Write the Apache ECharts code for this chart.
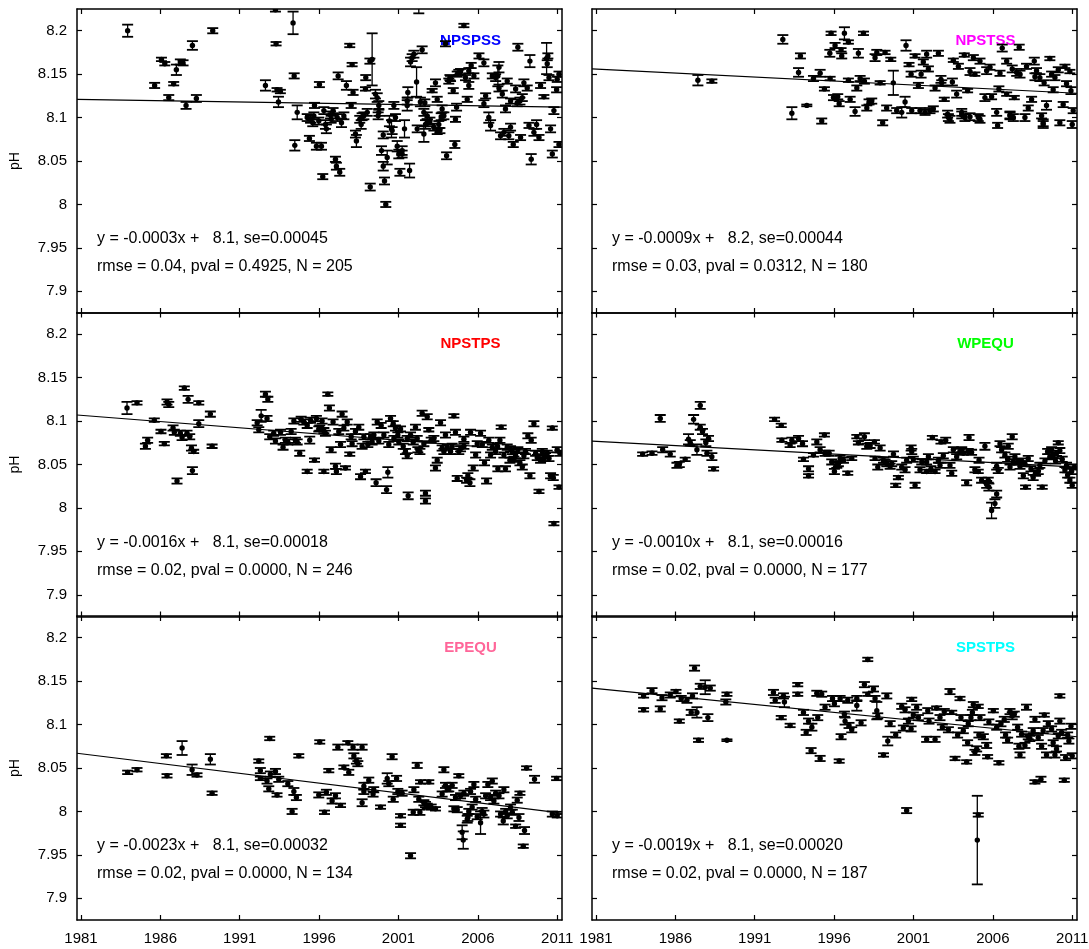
<!DOCTYPE html>
<html><head><meta charset="utf-8">
<script src="https://cdn.jsdelivr.net/npm/echarts@6/dist/echarts.min.js"></script>
<style>html,body{margin:0;padding:0;background:#fff}#c{width:1089px;height:949px}</style>
</head><body><div id="c"></div>
<script>
// ---------- data ----------
const panelNames = ['NPSPSS','NPSTSS','NPSTPS','WPEQU','EPEQU','SPSTPS'];
const titleColors = ['#0000ff','#ff00ff','#ff0000','#00ff00','#ff6699','#00ffff'];
const eqText = [
  'y = -0.0003x +   8.1, se=0.00045',
  'y = -0.0009x +   8.2, se=0.00044',
  'y = -0.0016x +   8.1, se=0.00018',
  'y = -0.0010x +   8.1, se=0.00016',
  'y = -0.0023x +   8.1, se=0.00032',
  'y = -0.0019x +   8.1, se=0.00020'
];
const statText = [
  'rmse = 0.04, pval = 0.4925, N = 205',
  'rmse = 0.03, pval = 0.0312, N = 180',
  'rmse = 0.02, pval = 0.0000, N = 246',
  'rmse = 0.02, pval = 0.0000, N = 177',
  'rmse = 0.02, pval = 0.0000, N = 134',
  'rmse = 0.02, pval = 0.0000, N = 187'
];
const trendX = [1980.75, 2011.3];
const trendStart = [8.121, 8.156, 8.107, 8.077, 8.067, 8.142];
const trendEnd   = [8.112, 8.128, 8.063, 8.047, 7.998, 8.086];
const xTicks = [1981, 1986, 1991, 1996, 2001, 2006, 2011];
const yTicks = [7.9, 7.95, 8, 8.05, 8.1, 8.15, 8.2];

// [year, pH, error]
const dNPSPSS = [
[1983.94,8.200,0.007],[1985.64,8.137,0.003],[1986.07,8.167,0.002],[1986.28,8.162,0.002],[1986.53,8.123,0.003],[1986.84,8.139,0.002],[1987.01,8.155,0.006],[1987.26,8.164,0.003],[1987.43,8.163,0.003],[1987.62,8.114,0.004],[1988.02,8.183,0.005],[1988.27,8.122,0.004],[1989.30,8.200,0.003],
[1992.62,8.137,0.006],[1993.29,8.185,0.002],[1993.25,8.224,0.002],[1993.35,8.132,0.002],[1993.56,8.130,0.002],[1993.44,8.118,0.006],[1994.36,8.209,0.013],[1994.43,8.148,0.003],[1994.47,8.068,0.006],[1994.62,8.106,0.008],
[1995.25,8.100,0.004],[1995.46,8.098,0.004],[1995.67,8.102,0.004],[1995.39,8.076,0.003],[1995.71,8.114,0.003],[1995.83,8.067,0.004],[1996.15,8.067,0.004],[1996.02,8.138,0.003],[1996.23,8.032,0.003],[1996.40,8.092,0.005],[1996.46,8.087,0.005],[1996.30,8.108,0.004],[1996.72,8.103,0.004],[1996.88,8.108,0.003],
[1997.03,8.052,0.003],[1997.09,8.044,0.004],[1997.30,8.037,0.004],[1997.20,8.148,0.004],[1997.41,8.094,0.005],[1997.56,8.102,0.004],[1997.72,8.137,0.005],[1997.93,8.183,0.002],[1998.08,8.161,0.002],[1998.14,8.129,0.003],[1998.02,8.114,0.003],[1998.29,8.081,0.004],[1998.35,8.073,0.007],[1998.56,8.098,0.004],[1998.65,8.092,0.005],[1998.82,8.102,0.004],[1998.94,8.146,0.003],[1998.92,8.133,0.002],
[1999.20,8.165,0.003],[1999.34,8.167,0.030],[1999.22,8.020,0.004],[1999.55,8.127,0.005],[1999.66,8.123,0.005],[1999.76,8.114,0.005],[1999.72,8.102,0.004],[1999.93,8.062,0.005],[2000.04,8.044,0.005],[2000.12,8.027,0.004],[2000.20,8.000,0.003],[2000.04,8.080,0.004],[2000.29,8.054,0.008],[2000.43,8.096,0.006],[2000.56,8.087,0.010],[2000.71,8.114,0.004],[2000.81,8.100,0.004],[2000.92,8.067,0.006],
[2001.02,8.058,0.005],[2001.09,8.037,0.004],[2001.23,8.062,0.005],[2001.38,8.087,0.010],[2001.55,8.114,0.006],[2001.59,8.129,0.006],[2001.70,8.039,0.008],[2001.76,8.164,0.005],[2001.86,8.169,0.004],[2001.97,8.173,0.004],[2002.14,8.141,0.017],[2002.28,8.240,0.020],[2002.38,8.118,0.005],[2002.49,8.178,0.004],[2002.60,8.106,0.004],[2002.70,8.092,0.005],[2002.60,8.081,0.009],[2002.81,8.102,0.004],[2002.98,8.096,0.004],
[2003.12,8.131,0.002],[2003.33,8.140,0.004],[2003.44,8.121,0.003],[2003.61,8.085,0.003],[2003.75,8.110,0.004],[2003.86,8.102,0.004],[2003.96,8.185,0.003],[2004.03,8.056,0.004],[2004.24,8.146,0.003],[2004.45,8.131,0.003],[2004.55,8.069,0.004],[2004.59,8.098,0.003],[2004.66,8.112,0.004],[2004.70,8.150,0.003],[2004.91,8.153,0.003],
[2005.12,8.206,0.002],[2005.22,8.146,0.003],[2005.43,8.154,0.003],[2005.43,8.137,0.004],[2005.58,8.160,0.003],[2005.75,8.148,0.003],[2006.07,8.171,0.003],[2006.38,8.163,0.004],[2006.38,8.116,0.004],[2006.49,8.125,0.003],[2006.69,8.100,0.006],[2006.80,8.091,0.006],[2006.91,8.148,0.003],
[2007.12,8.146,0.004],[2007.26,8.148,0.012],[2007.33,8.158,0.006],[2007.33,8.134,0.004],[2007.54,8.127,0.004],[2007.43,8.079,0.004],[2007.64,8.083,0.004],[2007.74,8.110,0.004],[2007.85,8.142,0.003],[2007.95,8.079,0.004],[2008.06,8.089,0.004],[2008.23,8.069,0.003],[2008.38,8.133,0.004],[2008.52,8.181,0.004],[2008.65,8.119,0.004],[2008.80,8.123,0.004],[2008.90,8.140,0.004],
[2009.11,8.134,0.003],[2009.28,8.165,0.007],[2009.36,8.052,0.006],[2009.22,8.091,0.003],[2009.53,8.083,0.004],[2009.70,8.092,0.005],[2009.85,8.077,0.003],[2009.95,8.137,0.003],[2010.16,8.124,0.002],[2010.33,8.168,0.018],[2010.37,8.162,0.004],[2010.48,8.146,0.003],[2010.58,8.087,0.004],[2010.69,8.058,0.004],[2010.79,8.108,0.004],[2010.96,8.132,0.003],[2011.00,8.144,0.003],[2011.11,8.150,0.003],[2011.11,8.069,0.003],
[1995.60,8.094,0.004],[1996.76,8.098,0.004],[1999.03,8.106,0.004],[1998.71,8.101,0.004],[2003.23,8.089,0.004],[2003.44,8.084,0.003],[2002.18,8.087,0.004],[2002.66,8.117,0.004],[2003.69,8.101,0.004],[2004.17,8.142,0.003],[2004.28,8.145,0.003],[2004.80,8.152,0.003],[2005.33,8.121,0.003],[2008.69,8.077,0.003],[2008.06,8.119,0.003],[2008.48,8.117,0.004],[2010.41,8.171,0.003],[2001.55,8.119,0.004],[1999.76,8.106,0.004],[2000.60,8.085,0.004],[2001.23,8.058,0.004],[2002.81,8.094,0.004],[2003.54,8.092,0.004],[1995.98,8.096,0.004],[1997.14,8.100,0.004]
];
const dNPSTSS = [
[1987.42,8.143,0.006],[1988.30,8.142,0.002],[1992.77,8.190,0.005],[1993.34,8.105,0.007],[1993.76,8.152,0.005],[1993.88,8.171,0.003],[1994.28,8.114,0.001],[1994.70,8.145,0.003],[1995.12,8.151,0.004],[1995.22,8.096,0.003],[1995.39,8.133,0.002],[1995.75,8.145,0.002],[1995.73,8.174,0.004],[1995.81,8.197,0.002],[1995.96,8.123,0.003],
[1996.06,8.183,0.003],[1996.23,8.124,0.003],[1996.32,8.116,0.003],[1996.44,8.178,0.002],[1996.48,8.171,0.003],[1996.65,8.197,0.007],[1996.90,8.187,0.002],[1996.90,8.143,0.002],[1997.01,8.121,0.003],[1997.32,8.107,0.005],[1997.43,8.134,0.003],[1997.53,8.174,0.005],[1997.64,8.145,0.003],[1997.85,8.197,0.002],[1997.91,8.142,0.003],
[1998.06,8.111,0.003],[1998.20,8.118,0.003],[1998.37,8.119,0.003],[1998.58,8.169,0.004],[1998.69,8.175,0.003],[1998.90,8.140,0.002],[1999.06,8.094,0.003],[1999.21,8.175,0.002],[1999.31,8.111,0.003],[1999.57,8.167,0.002],[1999.73,8.140,0.014],[1999.94,8.108,0.003],[2000.26,8.106,0.006],[2000.47,8.118,0.006],[2000.53,8.183,0.006],[2000.72,8.161,0.002],[2000.85,8.150,0.003],
[2001.10,8.171,0.002],[2001.31,8.137,0.003],[2001.41,8.108,0.003],[2001.48,8.150,0.004],[2001.62,8.164,0.003],[2001.83,8.173,0.004],[2001.94,8.156,0.003],[2002.04,8.108,0.003],[2002.25,8.110,0.003],[2002.36,8.134,0.003],[2002.57,8.174,0.003],[2002.73,8.144,0.004],[2002.78,8.140,0.003],[2002.94,8.121,0.002],
[2003.15,8.104,0.004],[2003.30,8.098,0.004],[2003.45,8.141,0.004],[2003.51,8.166,0.002],[2003.72,8.127,0.004],[2003.83,8.159,0.003],[2004.04,8.103,0.004],[2004.24,8.100,0.004],[2004.20,8.172,0.002],[2004.41,8.131,0.002],[2004.56,8.153,0.004],[2004.77,8.169,0.003],[2004.87,8.150,0.002],
[2005.08,8.100,0.004],[2005.19,8.165,0.003],[2005.50,8.123,0.004],[2005.61,8.154,0.004],[2005.82,8.158,0.003],[2005.92,8.124,0.003],[2006.24,8.106,0.004],[2006.30,8.091,0.003],[2006.38,8.133,0.003],[2006.45,8.151,0.003],[2006.59,8.180,0.004],[2006.87,8.165,0.003],[2006.87,8.127,0.002],
[2007.08,8.103,0.004],[2007.22,8.156,0.004],[2007.35,8.123,0.002],[2007.50,8.152,0.004],[2007.66,8.181,0.003],[2007.71,8.150,0.004],[2008.02,8.100,0.004],[2008.12,8.159,0.003],[2008.23,8.111,0.003],[2008.44,8.121,0.003],[2008.61,8.165,0.004],[2008.65,8.147,0.004],[2008.75,8.154,0.003],[2008.96,8.146,0.004],
[2009.07,8.102,0.003],[2009.17,8.094,0.004],[2009.23,8.140,0.003],[2009.38,8.114,0.005],[2009.59,8.168,0.002],[2009.70,8.150,0.003],[2009.80,8.132,0.003],[2009.91,8.146,0.003],[2010.12,8.155,0.003],[2010.22,8.094,0.003],[2010.43,8.115,0.003],[2010.54,8.159,0.002],[2010.64,8.139,0.003],[2010.85,8.153,0.002],[2010.92,8.131,0.004],[2011.00,8.092,0.004],[2011.06,8.108,0.003],
[2000.89,8.108,0.003],[2001.73,8.106,0.003],[2003.20,8.100,0.004],[2004.04,8.106,0.004],[2004.56,8.101,0.004],[2005.19,8.098,0.004],[2007.08,8.102,0.004],[2007.29,8.100,0.004],[2009.17,8.092,0.004]
];
const dNPSTPS = [
[1983.90,8.115,0.007],[1984.53,8.121,0.002],[1985.06,8.071,0.003],[1985.20,8.078,0.003],[1985.62,8.101,0.002],[1986.04,8.088,0.002],[1986.25,8.074,0.002],[1986.42,8.122,0.003],[1986.53,8.119,0.003],[1986.80,8.092,0.003],[1987.05,8.031,0.003],[1986.88,8.087,0.003],[1987.26,8.086,0.003],[1987.37,8.081,0.003],[1987.51,8.138,0.002],[1987.75,8.125,0.004],[1987.68,8.086,0.003],[1987.85,8.082,0.003],[1987.96,8.069,0.003],[1988.02,8.043,0.004],[1988.10,8.065,0.002],[1988.42,8.121,0.002],[1988.42,8.097,0.004],[1989.15,8.108,0.003],[1989.26,8.071,0.002],
[1992.10,8.098,0.003],[1992.20,8.090,0.003],[1992.35,8.106,0.007],[1992.62,8.131,0.003],[1992.77,8.125,0.003],[1992.72,8.103,0.003],[1992.89,8.082,0.003],[1993.14,8.086,0.003],[1993.25,8.077,0.003],[1993.57,8.087,0.003],[1993.73,8.070,0.003],[1994.03,8.076,0.003],[1994.24,8.088,0.003],[1994.41,8.100,0.003],[1994.62,8.076,0.003],[1994.78,8.063,0.003],[1994.87,8.102,0.003],
[1995.04,8.099,0.003],[1995.25,8.095,0.003],[1995.41,8.078,0.004],[1995.25,8.042,0.002],[1995.71,8.055,0.002],[1995.83,8.103,0.003],[1996.04,8.092,0.003],[1996.19,8.100,0.003],[1996.30,8.042,0.002],[1996.40,8.086,0.003],[1996.55,8.131,0.002],[1996.65,8.115,0.003],[1996.76,8.067,0.003],[1996.88,8.099,0.003],
[1997.03,8.048,0.003],[1997.09,8.042,0.003],[1997.35,8.073,0.003],[1997.45,8.108,0.003],[1997.56,8.092,0.003],[1997.66,8.046,0.002],[1997.77,8.099,0.003],[1997.93,8.062,0.002],[1998.02,8.082,0.003],[1998.29,8.088,0.003],[1998.50,8.093,0.003],[1998.61,8.036,0.003],[1998.71,8.071,0.003],[1998.92,8.042,0.002],
[1999.07,8.073,0.003],[1999.24,8.082,0.003],[1999.45,8.084,0.003],[1999.59,8.029,0.004],[1999.66,8.099,0.003],[1999.76,8.077,0.003],[1999.91,8.095,0.003],[2000.08,8.084,0.003],[2000.25,8.021,0.004],[2000.33,8.041,0.006],[2000.39,8.073,0.003],[2000.50,8.103,0.003],[2000.67,8.097,0.003],[2000.81,8.092,0.003],[2000.96,8.084,0.003],
[2001.13,8.091,0.003],[2001.30,8.071,0.003],[2001.44,8.065,0.003],[2001.55,8.060,0.003],[2001.61,8.014,0.004],[2001.76,8.084,0.003],[2001.93,8.076,0.003],[2002.07,8.093,0.003],[2002.22,8.067,0.003],[2002.35,8.065,0.003],[2002.49,8.109,0.003],[2002.70,8.017,0.003],[2002.70,8.008,0.003],[2002.81,8.105,0.003],[2002.91,8.090,0.002],
[2003.06,8.078,0.003],[2003.23,8.080,0.003],[2003.33,8.046,0.003],[2003.44,8.055,0.003],[2003.65,8.098,0.003],[2003.75,8.069,0.003],[2003.96,8.084,0.003],[2004.07,8.070,0.003],[2004.28,8.065,0.003],[2004.49,8.106,0.002],[2004.59,8.087,0.003],[2004.70,8.034,0.003],[2004.91,8.068,0.003],
[2005.12,8.079,0.003],[2005.29,8.032,0.003],[2005.37,8.037,0.003],[2005.50,8.029,0.004],[2005.54,8.087,0.003],[2005.71,8.046,0.003],[2005.86,8.061,0.003],[2006.17,8.086,0.003],[2006.28,8.073,0.003],[2006.42,8.052,0.003],[2006.55,8.031,0.003],[2006.69,8.078,0.003],[2006.91,8.070,0.003],
[2007.12,8.065,0.003],[2007.26,8.045,0.003],[2007.39,8.078,0.003],[2007.47,8.093,0.002],[2007.64,8.061,0.003],[2007.74,8.045,0.003],[2007.85,8.070,0.003],[2008.02,8.055,0.003],[2008.17,8.065,0.003],[2008.38,8.060,0.003],[2008.52,8.067,0.003],[2008.65,8.052,0.003],[2008.80,8.047,0.003],
[2009.00,8.065,0.003],[2009.15,8.083,0.003],[2009.28,8.037,0.003],[2009.36,8.078,0.003],[2009.53,8.097,0.003],[2009.64,8.063,0.003],[2009.85,8.019,0.002],[2009.95,8.055,0.003],[2010.06,8.065,0.003],[2010.27,8.060,0.003],[2010.48,8.057,0.003],[2010.58,8.037,0.003],[2010.69,8.092,0.002],[2010.75,8.035,0.003],[2010.79,7.982,0.002],[2011.00,8.067,0.003],[2011.11,8.024,0.002],[2011.17,8.063,0.003],
[1993.88,8.078,0.003],[1994.51,8.078,0.003],[1995.46,8.101,0.003],[1995.98,8.091,0.003],[1996.30,8.089,0.003],[1997.24,8.088,0.003],[1998.08,8.074,0.003],[1998.82,8.082,0.003],[1999.34,8.076,0.003],[2000.71,8.080,0.003],[2001.02,8.076,0.003],[2001.55,8.080,0.003],[2002.18,8.080,0.003],[2002.60,8.074,0.003],[2003.86,8.065,0.003],[2004.38,8.071,0.003],[2004.80,8.065,0.003],[2005.12,8.071,0.003],[2005.96,8.074,0.003],[2006.80,8.061,0.003],[2007.24,8.071,0.003],[2008.06,8.068,0.003],[2008.27,8.056,0.003],[2008.90,8.060,0.003],[2009.74,8.058,0.003],[2010.16,8.057,0.003],[2010.37,8.063,0.003]
];
const dWPEQU = [
[1983.94,8.062,0.002],[1984.53,8.063,0.002],[1985.05,8.103,0.004],[1985.20,8.067,0.003],[1985.68,8.062,0.003],[1986.10,8.049,0.003],[1986.25,8.050,0.003],[1986.62,8.056,0.002],[1986.83,8.079,0.006],[1986.94,8.075,0.003],[1987.15,8.102,0.005],[1987.36,8.067,0.006],[1987.57,8.118,0.004],[1987.57,8.093,0.003],[1987.71,8.088,0.003],[1987.92,8.075,0.004],[1987.99,8.063,0.003],[1988.09,8.080,0.003],[1988.30,8.059,0.004],[1988.41,8.045,0.002],
[1992.25,8.102,0.002],[1992.67,8.095,0.002],[1992.71,8.078,0.002],[1993.23,8.072,0.002],[1993.34,8.078,0.003],[1993.76,8.080,0.003],[1994.01,8.074,0.003],[1994.07,8.056,0.002],[1994.39,8.045,0.003],[1994.39,8.037,0.002],[1994.70,8.061,0.002],[1994.91,8.076,0.003],
[1995.12,8.067,0.003],[1995.39,8.084,0.002],[1995.69,8.063,0.003],[1995.85,8.053,0.003],[1996.02,8.042,0.003],[1996.17,8.049,0.003],[1996.38,8.057,0.003],[1996.59,8.055,0.003],[1996.86,8.040,0.002],[1997.11,8.057,0.002],[1997.43,8.082,0.002],[1997.53,8.075,0.002],[1997.91,8.082,0.004],[1998.06,8.071,0.003],[1998.27,8.072,0.003],[1998.54,8.076,0.002],[1998.58,8.057,0.002],[1998.75,8.047,0.003],[1998.90,8.069,0.003],
[1999.11,8.055,0.003],[1999.32,8.051,0.003],[1999.53,8.048,0.003],[1999.74,8.062,0.003],[1999.88,8.026,0.002],[2000.05,8.035,0.002],[2000.26,8.047,0.003],[2000.47,8.044,0.003],[2000.57,8.055,0.003],[2000.85,8.069,0.003],[2000.89,8.065,0.003],[2000.99,8.056,0.003],
[2001.10,8.026,0.003],[2001.41,8.044,0.003],[2001.52,8.053,0.003],[2001.83,8.042,0.002],[2001.94,8.059,0.003],[2002.10,8.045,0.003],[2002.19,8.081,0.002],[2002.36,8.042,0.002],[2002.57,8.055,0.003],[2002.73,8.076,0.002],[2002.88,8.060,0.003],[2003.03,8.078,0.003],
[2003.30,8.049,0.003],[2003.41,8.040,0.003],[2003.51,8.067,0.003],[2003.72,8.059,0.003],[2003.93,8.065,0.003],[2004.14,8.063,0.002],[2004.35,8.029,0.003],[2004.50,8.081,0.003],[2004.66,8.064,0.003],[2004.87,8.044,0.003],[2005.08,8.042,0.002],[2005.13,8.055,0.003],[2005.29,8.032,0.003],[2005.50,8.071,0.004],[2005.61,8.027,0.004],[2005.75,8.024,0.004],[2005.92,7.997,0.009],
[2006.13,8.005,0.005],[2006.24,8.016,0.004],[2006.24,8.048,0.004],[2006.34,8.043,0.003],[2006.45,8.074,0.003],[2006.55,8.067,0.003],[2006.76,8.061,0.003],[2006.93,8.056,0.003],[2007.08,8.047,0.003],[2007.22,8.082,0.003],[2007.39,8.059,0.003],[2007.56,8.053,0.003],[2007.71,8.048,0.003],[2007.92,8.037,0.003],
[2008.06,8.024,0.002],[2008.23,8.057,0.003],[2008.40,8.045,0.003],[2008.54,8.035,0.003],[2008.69,8.040,0.003],[2008.96,8.049,0.003],[2009.11,8.024,0.002],[2009.28,8.054,0.003],[2009.45,8.065,0.003],[2009.59,8.059,0.003],[2009.80,8.061,0.003],[2009.95,8.054,0.003],[2010.12,8.075,0.002],[2010.22,8.066,0.003],[2010.37,8.056,0.003],[2010.54,8.044,0.003],[2010.71,8.038,0.003],[2010.85,8.032,0.003],[2011.00,8.026,0.003],[2011.13,8.047,0.003],
[1995.43,8.063,0.003],[1996.27,8.051,0.003],[1999.21,8.053,0.003],[1999.63,8.051,0.003],[2001.83,8.053,0.003],[2002.67,8.049,0.003],[2004.04,8.067,0.003],[2004.45,8.065,0.003],[2005.71,8.032,0.003],[2006.97,8.071,0.003],[2007.29,8.053,0.003],[2007.81,8.054,0.003],[2008.02,8.051,0.003],[2008.86,8.042,0.003],[2009.70,8.067,0.003],[2010.01,8.063,0.003],[2010.64,8.049,0.003],[2010.96,8.042,0.003]
];
const dEPEQU = [
[1983.94,8.045,0.002],[1984.53,8.048,0.002],[1986.38,8.064,0.002],[1986.42,8.041,0.002],[1987.37,8.073,0.008],[1988.00,8.048,0.006],[1988.31,8.042,0.002],[1989.15,8.060,0.006],[1989.26,8.021,0.002],
[1992.20,8.058,0.002],[1992.30,8.047,0.003],[1992.30,8.038,0.002],[1992.72,8.035,0.003],[1992.83,8.026,0.003],[1992.89,8.084,0.002],[1993.25,8.046,0.003],[1993.35,8.019,0.002],[1994.03,8.032,0.003],[1994.30,8.000,0.003],[1994.41,8.023,0.004],[1994.57,8.016,0.003],[1994.72,8.064,0.002],
[1995.98,8.019,0.003],[1996.04,8.080,0.002],[1996.34,7.999,0.002],[1996.46,8.022,0.003],[1996.61,8.047,0.002],[1996.82,8.012,0.003],[1997.03,8.018,0.003],[1997.18,8.074,0.003],[1997.35,8.007,0.002],[1997.56,8.051,0.002],[1997.87,8.045,0.003],[1997.81,8.079,0.002],[1998.14,8.074,0.003],[1998.19,8.064,0.003],[1998.35,8.058,0.003],[1998.44,8.055,0.003],[1998.71,8.074,0.003],[1998.71,8.010,0.004],[1998.82,8.029,0.004],
[1999.13,8.036,0.003],[1999.40,8.020,0.003],[1999.87,8.005,0.002],[2000.29,8.038,0.006],[2000.39,8.032,0.003],[2000.60,8.063,0.003],[2000.67,8.014,0.003],[2000.88,8.038,0.003],[2000.96,8.023,0.003],[2001.13,7.995,0.002],[2001.13,7.984,0.002],[2001.23,8.021,0.003],[2001.76,7.949,0.003],[2001.97,8.025,0.003],[2001.93,7.999,0.003],
[2002.18,8.053,0.003],[2002.28,8.014,0.003],[2002.35,7.999,0.003],[2002.39,8.034,0.002],[2002.70,8.008,0.003],[2002.91,8.034,0.002],[2003.06,8.005,0.003],[2003.33,8.003,0.002],[2003.75,8.020,0.003],[2003.86,8.048,0.003],[2003.96,8.030,0.003],[2004.17,8.026,0.003],[2004.38,8.030,0.003],[2004.49,8.003,0.003],[2004.59,8.016,0.003],[2004.80,8.041,0.002],[2004.91,8.018,0.003],
[2005.01,7.976,0.008],[2005.08,7.967,0.010],[2005.12,8.021,0.003],[2005.33,7.991,0.004],[2005.37,7.993,0.004],[2005.54,8.023,0.003],[2005.64,8.005,0.003],[2005.75,8.031,0.003],[2005.86,8.014,0.003],[2006.17,7.987,0.013],[2006.27,8.000,0.004],[2006.38,7.997,0.004],[2006.49,8.018,0.003],[2006.63,8.031,0.003],[2006.80,8.016,0.003],[2006.91,8.035,0.003],
[2007.01,8.012,0.003],[2007.33,8.018,0.003],[2007.43,7.997,0.003],[2007.60,7.989,0.004],[2007.64,8.025,0.003],[2007.85,7.995,0.003],[2008.06,8.005,0.003],[2008.17,7.999,0.003],[2008.38,7.983,0.002],[2008.59,7.993,0.004],[2008.65,8.021,0.002],[2008.86,7.960,0.002],[2008.94,7.978,0.004],[2009.07,8.050,0.002],[2009.57,8.037,0.004],[2010.69,7.997,0.003],[2010.96,8.038,0.002],[2011.00,7.995,0.002],
[1992.93,8.043,0.003],[1993.46,8.037,0.003],[1998.82,8.023,0.003],[1999.44,8.025,0.003],[2002.60,8.010,0.003],[2002.81,8.006,0.003],[2004.07,8.026,0.003],[2004.70,8.002,0.003],[2005.43,8.000,0.003],[2005.96,7.994,0.003],[2007.12,8.021,0.003],[2007.75,8.000,0.003],[2008.48,8.013,0.003]
];
const dSPSTPS = [
[1984.00,8.133,0.002],[1984.00,8.117,0.002],[1984.53,8.139,0.003],[1985.05,8.118,0.003],[1985.16,8.131,0.003],[1985.68,8.134,0.003],[1986.04,8.138,0.002],[1986.25,8.104,0.002],[1986.37,8.130,0.003],[1986.73,8.128,0.003],[1987.00,8.114,0.003],[1987.08,8.133,0.003],[1987.21,8.165,0.003],[1987.36,8.114,0.006],[1987.46,8.082,0.002],[1987.57,8.144,0.003],[1987.88,8.143,0.008],[1988.05,8.108,0.004],[1988.20,8.142,0.003],[1989.18,8.126,0.003],[1989.25,8.135,0.002],[1989.25,8.082,0.001],
[1992.18,8.137,0.003],[1992.29,8.128,0.003],[1992.67,8.108,0.002],[1992.81,8.133,0.003],[1992.87,8.126,0.006],[1993.23,8.099,0.002],[1993.71,8.146,0.002],[1993.71,8.135,0.002],[1994.07,8.114,0.003],[1994.24,8.091,0.003],[1994.39,8.104,0.003],[1994.55,8.070,0.003],[1994.60,8.097,0.004],[1994.91,8.136,0.003],[1994.97,8.108,0.003],
[1995.12,8.061,0.003],[1995.22,8.135,0.003],[1995.43,8.120,0.003],[1995.90,8.130,0.003],[1996.02,8.124,0.003],[1996.32,8.058,0.002],[1996.38,8.130,0.003],[1996.44,8.086,0.003],[1996.65,8.112,0.003],[1996.69,8.104,0.004],[1996.86,8.128,0.003],[1996.94,8.099,0.003],[1997.11,8.094,0.003],[1997.43,8.130,0.003],[1997.43,8.122,0.006],[1997.70,8.102,0.003],[1997.91,8.146,0.003],
[1998.12,8.175,0.002],[1998.12,8.135,0.002],[1998.48,8.141,0.003],[1998.58,8.130,0.003],[1998.69,8.116,0.010],[1998.75,8.110,0.003],[1999.11,8.065,0.002],[1999.32,8.133,0.003],[1999.38,8.081,0.005],[1999.53,8.101,0.003],[1999.88,8.088,0.003],
[2000.26,8.121,0.003],[2000.36,8.096,0.003],[2000.47,8.117,0.003],[2000.57,8.001,0.003],[2000.68,8.104,0.003],[2000.85,8.095,0.003],[2000.89,8.129,0.002],[2000.99,8.111,0.003],[2001.20,8.120,0.003],[2001.31,8.108,0.003],[2001.83,8.083,0.003],[2001.90,8.116,0.003],[2001.98,8.104,0.003],
[2002.36,8.083,0.003],[2002.46,8.119,0.002],[2002.67,8.108,0.003],[2002.82,8.097,0.003],[2002.94,8.115,0.003],[2003.20,8.094,0.003],[2003.30,8.138,0.003],[2003.41,8.114,0.002],[2003.62,8.061,0.002],[2003.78,8.088,0.003],[2003.93,8.130,0.002],[2003.99,8.108,0.003],
[2004.14,8.093,0.003],[2004.35,8.057,0.002],[2004.41,8.079,0.003],[2004.45,8.101,0.003],[2004.62,8.108,0.003],[2004.71,8.114,0.003],[2004.77,8.123,0.003],[2004.87,8.068,0.003],[2004.98,8.072,0.003],[2005.02,7.967,0.051],[2005.08,7.996,0.002],[2005.12,8.088,0.003],[2005.08,8.121,0.002],[2005.19,8.108,0.003],[2005.40,8.086,0.003],[2005.61,8.076,0.003],[2005.67,8.063,0.002],[2005.75,8.103,0.003],
[2006.03,8.116,0.002],[2006.24,8.097,0.003],[2006.38,8.056,0.002],[2006.51,8.101,0.003],[2006.72,8.106,0.003],[2006.80,8.088,0.003],[2006.93,8.082,0.003],[2007.08,8.115,0.003],[2007.22,8.110,0.004],[2007.35,8.112,0.003],[2007.56,8.097,0.003],[2007.64,8.075,0.003],[2007.71,8.065,0.003],[2007.81,8.089,0.003],
[2008.02,8.076,0.003],[2008.12,8.120,0.003],[2008.23,8.086,0.003],[2008.33,8.084,0.003],[2008.54,8.093,0.003],[2008.65,8.106,0.003],[2008.65,8.034,0.002],[2008.86,8.085,0.003],[2009.03,8.037,0.003],[2009.07,8.075,0.003],[2009.17,8.093,0.003],[2009.24,8.111,0.002],[2009.38,8.065,0.003],[2009.49,8.101,0.003],[2009.70,8.095,0.003],[2009.80,8.079,0.003],[2009.91,8.065,0.003],
[2010.01,8.072,0.003],[2010.12,8.087,0.003],[2010.22,8.104,0.003],[2010.22,8.133,0.002],[2010.33,8.091,0.003],[2010.50,8.036,0.002],[2010.58,8.062,0.003],[2010.71,8.088,0.003],[2010.79,8.081,0.003],[2010.92,8.098,0.003],[2011.00,8.064,0.003]
];
const panelData = [dNPSPSS, dNPSTSS, dNPSTPS, dWPEQU, dEPEQU, dSPSTPS];

// ---------- layout ----------
const colLeft = [77, 592];
const rowTop = [9, 312.5, 616];
const gridW = 485, gridH = 304;
const xMin = 1980.75, xMax = 2011.3, yMin = 7.875, yMax = 8.225;
const FONT = '"Liberation Sans", Arial, sans-serif';

const grids = [], xAxes = [], yAxes = [], series = [], graphics = [];

function renderErr(params, api) {
  const x = api.value(0), y = api.value(1), e = api.value(2);
  const p = api.coord([x, y]);
  const pt = api.coord([x, y + e]);
  const pb = api.coord([x, y - e]);
  const cw = 5.5;
  const cs = params.coordSys;
  const vs = {stroke: '#000', lineWidth: 1.3};
  const cap = {stroke: '#000', lineWidth: 1.8};
  return {
    type: 'group',
    clipPath: {type: 'rect', shape: {x: cs.x, y: cs.y, width: cs.width, height: cs.height}},
    children: [
      {type: 'line', shape: {x1: p[0], y1: pt[1], x2: p[0], y2: pb[1]}, style: vs},
      {type: 'line', shape: {x1: p[0] - cw, y1: pt[1], x2: p[0] + cw, y2: pt[1]}, style: cap},
      {type: 'line', shape: {x1: p[0] - cw, y1: pb[1], x2: p[0] + cw, y2: pb[1]}, style: cap},
      {type: 'circle', shape: {cx: p[0], cy: p[1], r: 2.7}, style: {fill: '#000'}}
    ]
  };
}

for (let i = 0; i < 6; i++) {
  const col = i % 2, row = Math.floor(i / 2);
  const L = colLeft[col], T = rowTop[row];
  grids.push({left: L, top: T, width: gridW, height: gridH, outerBoundsMode: 'none', containLabel: false});
  const axLine = {show: true, onZero: false, lineStyle: {color: '#000', width: 1.5}};
  const bottomRow = row === 2, leftCol = col === 0;
  xAxes.push({
    type: 'value', gridIndex: i, position: 'bottom', min: xMin, max: xMax,
    axisLine: axLine, splitLine: {show: false},
    axisTick: {show: true, inside: true, length: 5, customValues: xTicks, lineStyle: {color: '#000', width: 1.2}},
    axisLabel: {show: bottomRow, customValues: xTicks, margin: 11, color: '#000', fontSize: 15, fontFamily: FONT, formatter: v => String(v)}
  });
  xAxes.push({
    type: 'value', gridIndex: i, position: 'top', min: xMin, max: xMax,
    axisLine: axLine, splitLine: {show: false},
    axisTick: {show: true, inside: true, length: 5, customValues: xTicks, lineStyle: {color: '#000', width: 1.2}},
    axisLabel: {show: false}
  });
  yAxes.push({
    type: 'value', gridIndex: i, position: 'left', min: yMin, max: yMax,
    axisLine: axLine, splitLine: {show: false},
    axisTick: {show: true, inside: true, length: 5, customValues: yTicks, lineStyle: {color: '#000', width: 1.2}},
    axisLabel: {show: leftCol, customValues: yTicks, margin: 10, color: '#000', fontSize: 15, fontFamily: FONT, formatter: v => String(v)},
    name: leftCol ? 'pH' : '', nameLocation: 'middle', nameGap: 55, nameRotate: 90,
    nameTextStyle: {color: '#000', fontSize: 14, fontFamily: FONT}
  });
  yAxes.push({
    type: 'value', gridIndex: i, position: 'right', min: yMin, max: yMax,
    axisLine: axLine, splitLine: {show: false},
    axisTick: {show: true, inside: true, length: 5, customValues: yTicks, lineStyle: {color: '#000', width: 1.2}},
    axisLabel: {show: false}
  });
  series.push({
    type: 'line', xAxisIndex: 2 * i, yAxisIndex: 2 * i, silent: true, symbol: 'none',
    data: [[trendX[0], trendStart[i]], [trendX[1], trendEnd[i]]],
    lineStyle: {color: '#000', width: 1.2}, clip: true, z: 2
  });
  series.push({
    type: 'custom', xAxisIndex: 2 * i, yAxisIndex: 2 * i, silent: true,
    renderItem: renderErr, data: panelData[i], z: 3
  });
  graphics.push({type: 'text', left: L + 20, top: T + 222, style: {text: eqText[i], font: '16px ' + FONT, fill: '#000'}});
  graphics.push({type: 'text', left: L + 20, top: T + 250, style: {text: statText[i], font: '16px ' + FONT, fill: '#000'}});
  graphics.push({type: 'text', x: L + 393.5, y: T + 31.5, style: {text: panelNames[i], font: 'bold 15px ' + FONT, fill: titleColors[i], align: 'center', verticalAlign: 'middle'}});
}

const chart = echarts.init(document.getElementById('c'), null, {renderer: 'canvas'});
chart.setOption({
  animation: false,
  backgroundColor: '#fff',
  textStyle: {fontFamily: FONT},
  grid: grids, xAxis: xAxes, yAxis: yAxes, series: series, graphic: graphics
});
</script></body></html>
